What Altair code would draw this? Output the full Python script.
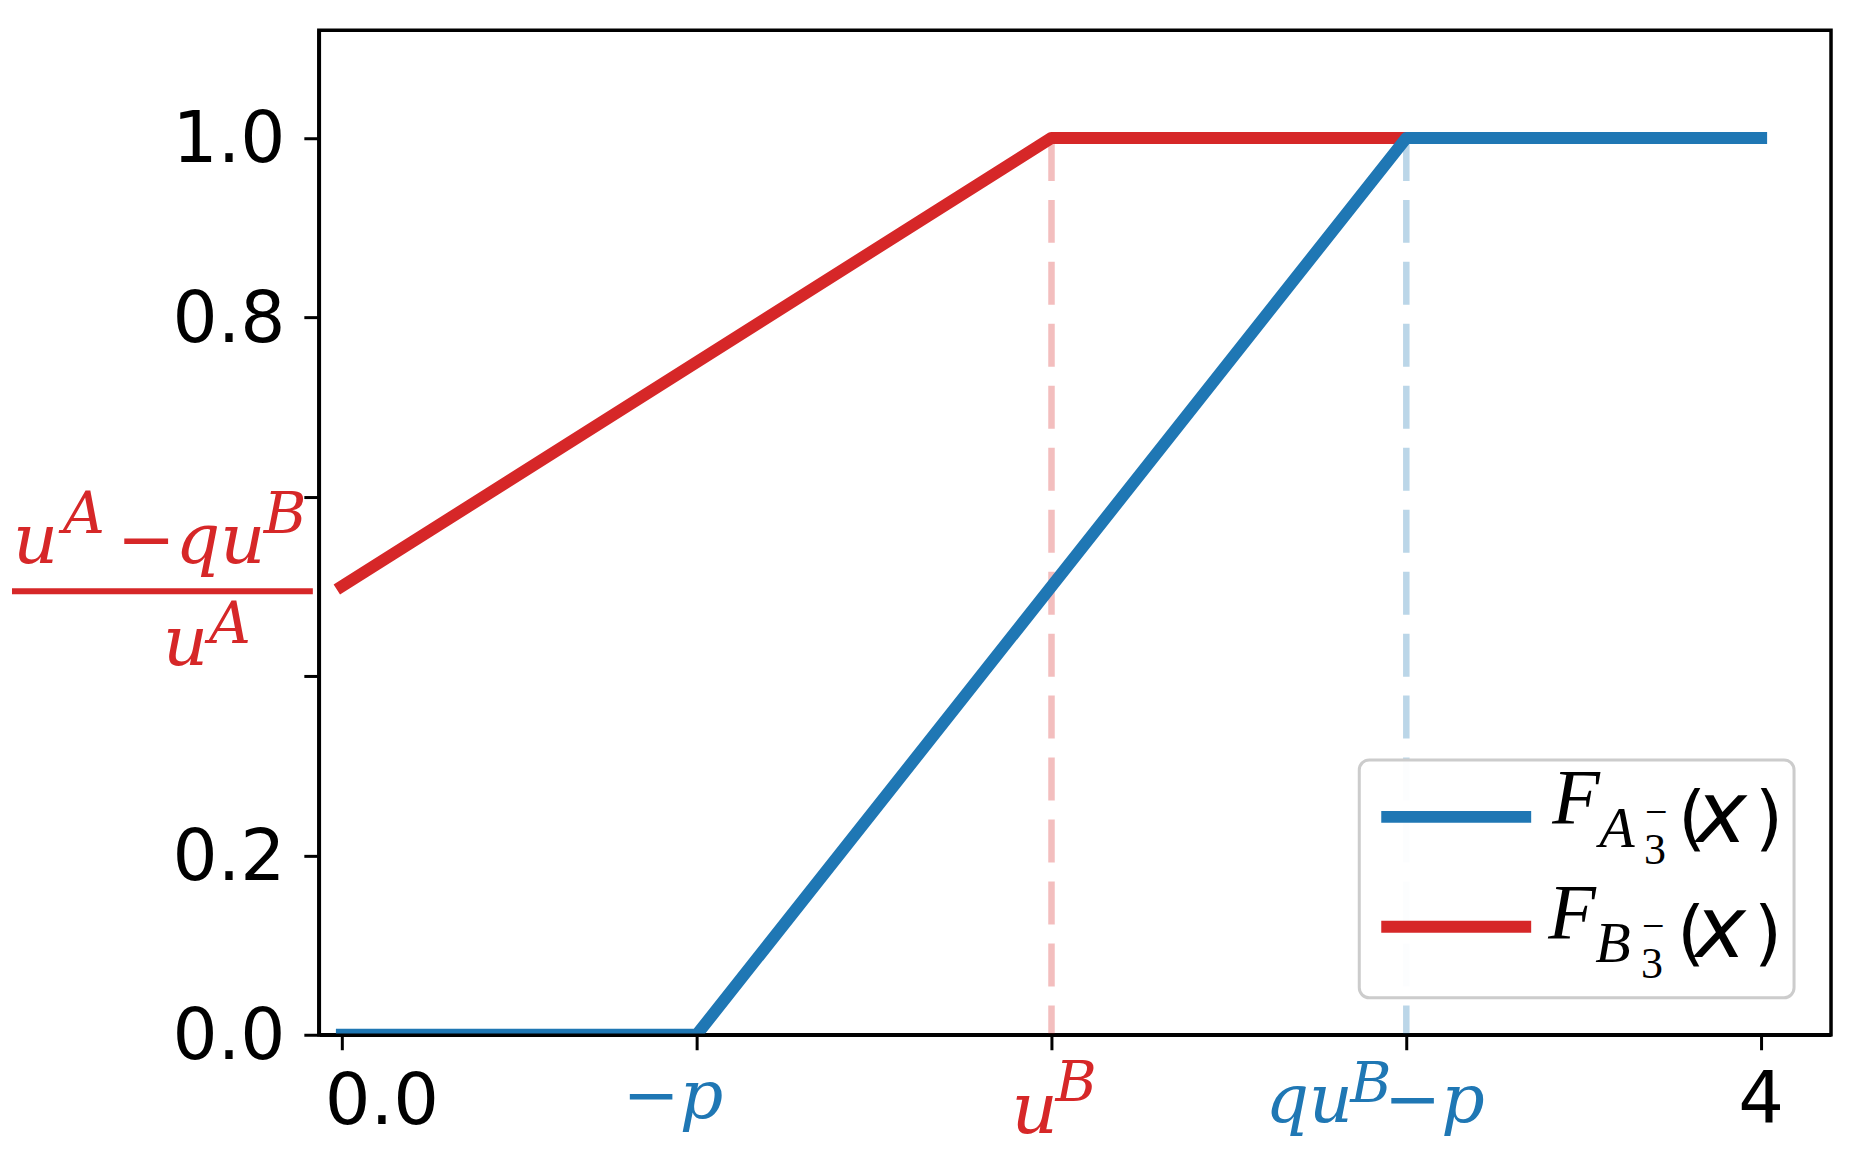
import altair as alt
import pandas as pd

# ---------------- data ----------------
blue_x = [0, 1, 3, 4]
blue_y = [0.0, 0.0, 1.0, 1.0]
red_x = [0, 2, 3]
red_y = [0.5, 1.0, 1.0]
guide_x = [2, 3]
guide_top = [1.0, 1.0]
guide_bottom = [0.0, 0.0]
x_ticks = [0, 1, 2, 3, 4]
y_ticks = [0.0, 0.2, 0.4, 0.6, 0.8, 1.0]
y_hidden = [0.4, 0.6]
x_domain = [-0.065, 4.197]
y_domain = [0.0, 1.12]

TAB_BLUE = "#1f77b4"
TAB_RED = "#d62728"
SANS = "DejaVu Sans"
MATH = "DejaVu Serif"
LEG = "Liberation Serif"

xs = alt.Scale(domain=x_domain, nice=False, zero=False)
ys = alt.Scale(domain=y_domain, nice=False, zero=False)
one = pd.DataFrame({"k": [0]})

guides = pd.DataFrame({
    "x": guide_x, "y": guide_top, "y0": guide_bottom,
    "c": [TAB_RED, TAB_BLUE],
})
red_df = pd.DataFrame({"x": red_x, "y": red_y})
blue_df = pd.DataFrame({"x": blue_x, "y": blue_y})

hidden_test = " || ".join(f"abs(datum.value - {v}) < 0.001" for v in y_hidden)
y_label_expr = f"({hidden_test}) ? '' : format(datum.value, '.1f')"

AX = alt.Axis(
    values=x_ticks, labels=False, title=None, grid=False,
    tickSize=15, tickWidth=3, tickColor="black",
    domainColor="black", domainWidth=3.5, zindex=1)
AY = alt.Axis(
    values=y_ticks, labelExpr=y_label_expr, title=None, grid=False,
    tickSize=15, tickWidth=3, tickColor="black",
    domainColor="black", domainWidth=3.5,
    labelFont=SANS, labelFontSize=71, labelColor="black",
    labelPadding=19, labelOffset=3, zindex=1)

guide_layer = alt.Chart(guides).mark_rule(
    strokeDash=[43, 19], strokeWidth=6.5, opacity=0.3
).encode(
    x=alt.X("x:Q", scale=xs, axis=AX),
    y=alt.Y("y:Q", scale=ys, axis=AY),
    y2="y0:Q",
    color=alt.Color("c:N", scale=None, legend=None),
)


def series(df, color):
    return alt.Chart(df).mark_line(
        strokeWidth=12, strokeCap="square", strokeJoin="round",
        clip=True, color=color
    ).encode(
        x=alt.X("x:Q", scale=xs, axis=AX),
        y=alt.Y("y:Q", scale=ys, axis=AY),
    )


def xlab(val, text, dx, dy, size, color, font=MATH, style="italic", align="left"):
    return alt.Chart(one).mark_text(
        text=text, dx=dx, dy=dy, align=align, baseline="alphabetic",
        fontSize=size, font=font, fontStyle=style, color=color
    ).encode(
        x=alt.XDatum(val, type="quantitative", scale=xs),
        y=alt.YDatum(0, type="quantitative", scale=ys),
    )


def ylab(val, text, px, dy, size, color, font=MATH, style="italic"):
    return alt.Chart(one).mark_text(
        text=text, dy=dy, align="left", baseline="alphabetic",
        fontSize=size, font=font, fontStyle=style, color=color
    ).encode(
        x=alt.value(px),
        y=alt.YDatum(val, type="quantitative", scale=ys),
    )


def ptxt(text, px, py, size, font, style, color="black"):
    return alt.Chart(one).mark_text(
        text=text, align="left", baseline="alphabetic",
        fontSize=size, font=font, fontStyle=style, color=color
    ).encode(x=alt.value(px), y=alt.value(py))


# x tick labels
x_labels = [
    xlab(0, "0.0", 40, 89, 72, "black", font=SANS, style="normal", align="center"),
    xlab(4, "4", 0, 87, 72, "black", font=SANS, style="normal", align="center"),
    xlab(1, "\u2212p", -74, 83, 68, TAB_BLUE),
    xlab(2, "u", -40, 98, 72, TAB_RED),
    xlab(2, "B", 4, 66, 56, TAB_RED),
    xlab(3, "qu", -141, 87, 68, TAB_BLUE),
    xlab(3, "B", -56, 67, 56, TAB_BLUE),
    xlab(3, "\u2212p", -22, 87, 68, TAB_BLUE),
]

# fraction tick label at y = 0.5
frac_bar = alt.Chart(one).mark_rule(
    strokeWidth=6, color=TAB_RED, yOffset=5
).encode(
    x=alt.value(-307), x2=alt.value(-6),
    y=alt.YDatum(0.5, type="quantitative", scale=ys),
)
y_frac = [
    ylab(0.5, "u", -306, -23, 70, TAB_RED),
    ylab(0.5, "A", -256, -53, 58, TAB_RED),
    ylab(0.5, "\u2212qu", -202, -23, 70, TAB_RED),
    ylab(0.5, "B", -55, -53, 58, TAB_RED),
    frac_bar,
    ylab(0.5, "u", -156, 79, 70, TAB_RED),
    ylab(0.5, "A", -110, 57, 58, TAB_RED),
]

# legend
legend_box = alt.Chart(one).mark_rect(
    cornerRadius=10, fill="white", fillOpacity=0.95,
    stroke="#cccccc", strokeWidth=3
).encode(x=alt.value(1041), x2=alt.value(1476), y=alt.value(730), y2=alt.value(968))


def leg_line(py, color):
    return alt.Chart(one).mark_rule(strokeWidth=12, color=color).encode(
        x=alt.value(1063), x2=alt.value(1213), y=alt.value(py))


legend = [
    legend_box,
    leg_line(787, TAB_BLUE),
    ptxt("F", 1234, 793, 78, LEG, "italic"),
    ptxt("A", 1281, 817, 58, LEG, "italic"),
    ptxt("3", 1326, 834, 44, LEG, "normal"),
    ptxt("\u2212", 1327, 795, 40, LEG, "normal"),
    ptxt("(", 1360, 812, 72, SANS, "normal"),
    ptxt("x", 1378, 812, 86, SANS, "italic"),
    ptxt(")", 1437, 812, 72, SANS, "normal"),
    leg_line(897, TAB_RED),
    ptxt("F", 1230, 908, 78, LEG, "italic"),
    ptxt("B", 1277, 932, 58, LEG, "italic"),
    ptxt("3", 1323, 948, 44, LEG, "normal"),
    ptxt("\u2212", 1324, 909, 40, LEG, "normal"),
    ptxt("(", 1359, 927, 72, SANS, "normal"),
    ptxt("x", 1377, 927, 86, SANS, "italic"),
    ptxt(")", 1436, 927, 72, SANS, "normal"),
]

chart = alt.layer(
    guide_layer,
    series(red_df, TAB_RED),
    series(blue_df, TAB_BLUE),
    *x_labels,
    *y_frac,
    *legend,
).properties(
    width=1513, height=1005,
    autosize=alt.AutoSizeParams(type="none"),
    padding={"left": 311, "top": 22, "right": 30, "bottom": 120},
    background="white",
).configure_view(
    stroke="black", strokeWidth=3.5
)

chart.save("out.html", embed_options={"renderer": "svg", "actions": False})
